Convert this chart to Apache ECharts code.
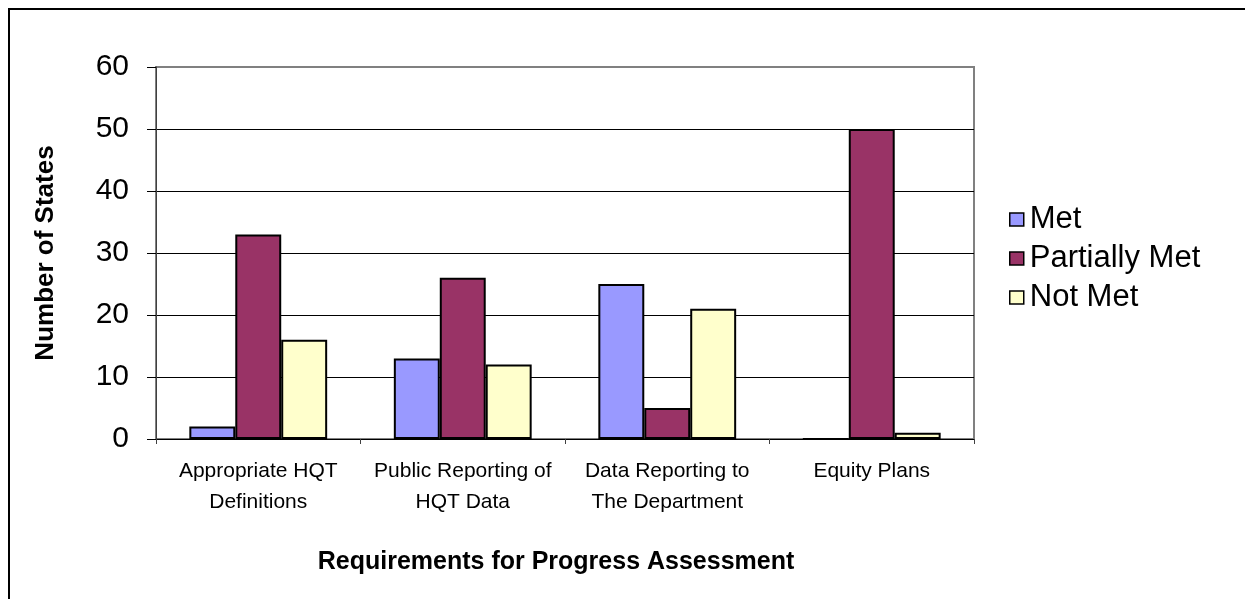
<!DOCTYPE html>
<html><head><meta charset="utf-8">
<script src="https://cdn.jsdelivr.net/npm/echarts@6/dist/echarts.min.js"></script>
<style>html,body{margin:0;padding:0;background:#fff}#c{width:1245px;height:599px}</style>
</head><body><div id="c"></div>
<script>
const categories = ['Appropriate HQT\nDefinitions', 'Public Reporting of\nHQT Data', 'Data Reporting to\nThe Department', 'Equity Plans'];
const seriesNames = ['Met', 'Partially Met', 'Not Met'];
const met = [2, 13, 25, 0];
const partiallyMet = [33, 26, 5, 50];
const notMet = [16, 12, 21, 1];
const yTicks = [0, 10, 20, 30, 40, 50, 60];
const colors = ['#9999FF', '#993366', '#FFFFCC'];
const FONT = '"Liberation Sans", Arial, sans-serif';

const chart = echarts.init(document.getElementById('c'), null, {renderer: 'canvas'});
const dataSets = [met, partiallyMet, notMet];
chart.setOption({
  animation: false,
  textStyle: {fontFamily: FONT, color: '#000'},
  graphic: [{type: 'rect', shape: {x: 9, y: 9, width: 1400, height: 800}, style: {fill: 'none', stroke: '#000', lineWidth: 2}, z: 100}],
  grid: {left: 156, right: 271, top: 67, bottom: 160, show: true, borderColor: '#808080', borderWidth: 2, backgroundColor: '#fff'},
  legend: {
    orient: 'vertical', left: 1004, top: 199, itemGap: 8,
    icon: 'rect', itemWidth: 14, itemHeight: 13,
    itemStyle: {borderColor: '#000', borderWidth: 1.5},
    textStyle: {fontFamily: FONT, fontSize: 31, lineHeight: 31, color: '#000', padding: [0, 0, 0, 1]},
    data: seriesNames
  },
  xAxis: {
    type: 'category', data: categories,
    name: 'Requirements for Progress Assessment', nameLocation: 'middle', nameGap: 111,
    nameTextStyle: {fontFamily: FONT, fontSize: 25, fontWeight: 'bold', color: '#000', padding: [0, 18, 0, 0]},
    axisLine: {lineStyle: {color: '#000', width: 1}},
    axisTick: {show: true, length: 5, lineStyle: {color: '#404040'}},
    axisLabel: {fontFamily: FONT, fontSize: 21, color: '#000', lineHeight: 31, margin: 17, interval: 0}
  },
  yAxis: {
    type: 'value', min: 0, max: 60, interval: 10,
    name: 'Number of States', nameLocation: 'middle', nameGap: 97, nameRotate: 90,
    nameTextStyle: {fontFamily: FONT, fontSize: 26, fontWeight: 'bold', color: '#000'},
    axisLine: {show: true, lineStyle: {color: '#404040', width: 1}},
    axisTick: {show: true, length: 9, lineStyle: {color: '#000'}},
    axisLabel: {fontFamily: FONT, fontSize: 30, color: '#000', margin: 27,
      formatter: v => yTicks.includes(v) ? String(v) : ''},
    splitLine: {show: true, lineStyle: {color: ['#000', '#000', '#000', '#000', '#000', '#000', '#808080'], width: 1}}
  },
  series: seriesNames.map((n, i) => ({
    name: n, type: 'bar', data: dataSets[i],
    barGap: '0%', barCategoryGap: '32.6%',
    itemStyle: {color: colors[i], borderColor: '#000', borderWidth: 2}
  }))
});
</script></body></html>
